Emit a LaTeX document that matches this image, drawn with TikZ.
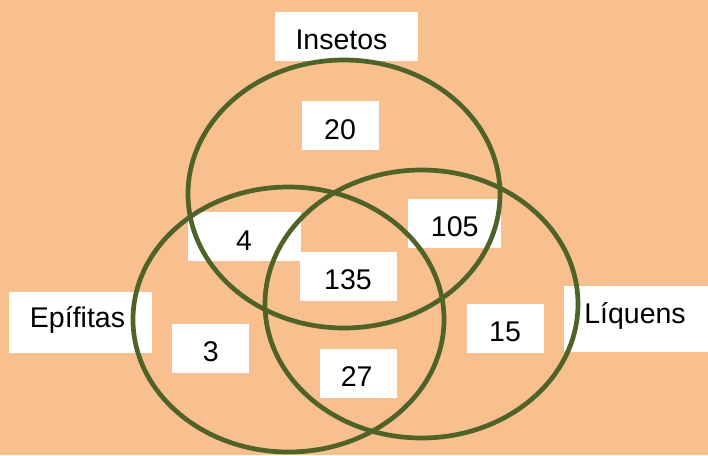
\documentclass[tikz,border=0pt]{standalone}
\usepackage{fontspec}
\setmainfont{Liberation Sans}
\usetikzlibrary{shapes.geometric}
\definecolor{peach}{HTML}{F9C08F}
\definecolor{olive}{HTML}{4F6228}
\tikzset{
  whitebox/.style={rectangle, fill=white, draw=none, inner sep=0pt},
  txt/.style={anchor=base, inner sep=0pt, font=\fontsize{28.5}{34}\selectfont},
  ring/.style={ellipse, draw=olive, line width=4.7pt, inner sep=0pt},
}
\begin{document}
\begin{tikzpicture}[x=1pt, y=-1pt]
  % background
  \fill[peach] (0,0) rectangle (708,455);
  \useasboundingbox (0,0) rectangle (708,455);

  % white label boxes (centre, size)
  \node[whitebox, minimum width=143pt, minimum height=49pt] (bIns) at (346.5,36.5) {};
  \node[whitebox, minimum width=77pt,  minimum height=49pt] (b20)  at (340.5,125.5) {};
  \node[whitebox, minimum width=113pt, minimum height=49pt] (b4)   at (244.5,236.5) {};
  \node[whitebox, minimum width=97pt,  minimum height=49pt] (b135) at (348.5,276.5) {};
  \node[whitebox, minimum width=93pt,  minimum height=49pt] (b105) at (454.5,223.5) {};
  \node[whitebox, minimum width=143pt, minimum height=61pt] (bEpi) at (80.5,322.5) {};
  \node[whitebox, minimum width=77pt,  minimum height=49pt] (b3)   at (210.5,348.5) {};
  \node[whitebox, minimum width=77pt,  minimum height=49pt] (b27)  at (358.5,373.5) {};
  \node[whitebox, minimum width=77pt,  minimum height=49pt] (b15)  at (505.5,328.5) {};
  \node[whitebox, minimum width=144pt, minimum height=66pt] (bLiq) at (636,319) {};

  % texts
  \node[txt] (tIns) at (341.5,49) {Insetos};
  \node[txt] (t20)  at (340,139) {20};
  \node[txt] (t4)   at (244,250) {4};
  \node[txt] (t135) at (348,289) {135};
  \node[txt] (t105) at (454.7,236) {105};
  \node[txt] (tEpi) at (77.5,327.7) {Epífitas};
  \node[txt] (t3)   at (210.7,361.7) {3};
  \node[txt] (t27)  at (356.7,386.7) {27};
  \node[txt] (t15)  at (505,341.7) {15};
  \node[txt] (tLiq) at (635,323) {Líquens};

  % the three sets
  \node[ring, minimum width=312pt, minimum height=268pt] (setIns) at (344,194) {};
  \node[ring, minimum width=311pt, minimum height=265pt] (setEpi) at (288.5,319.5) {};
  \node[ring, minimum width=313pt, minimum height=268pt] (setLiq) at (421.5,304) {};
\end{tikzpicture}
\end{document}
